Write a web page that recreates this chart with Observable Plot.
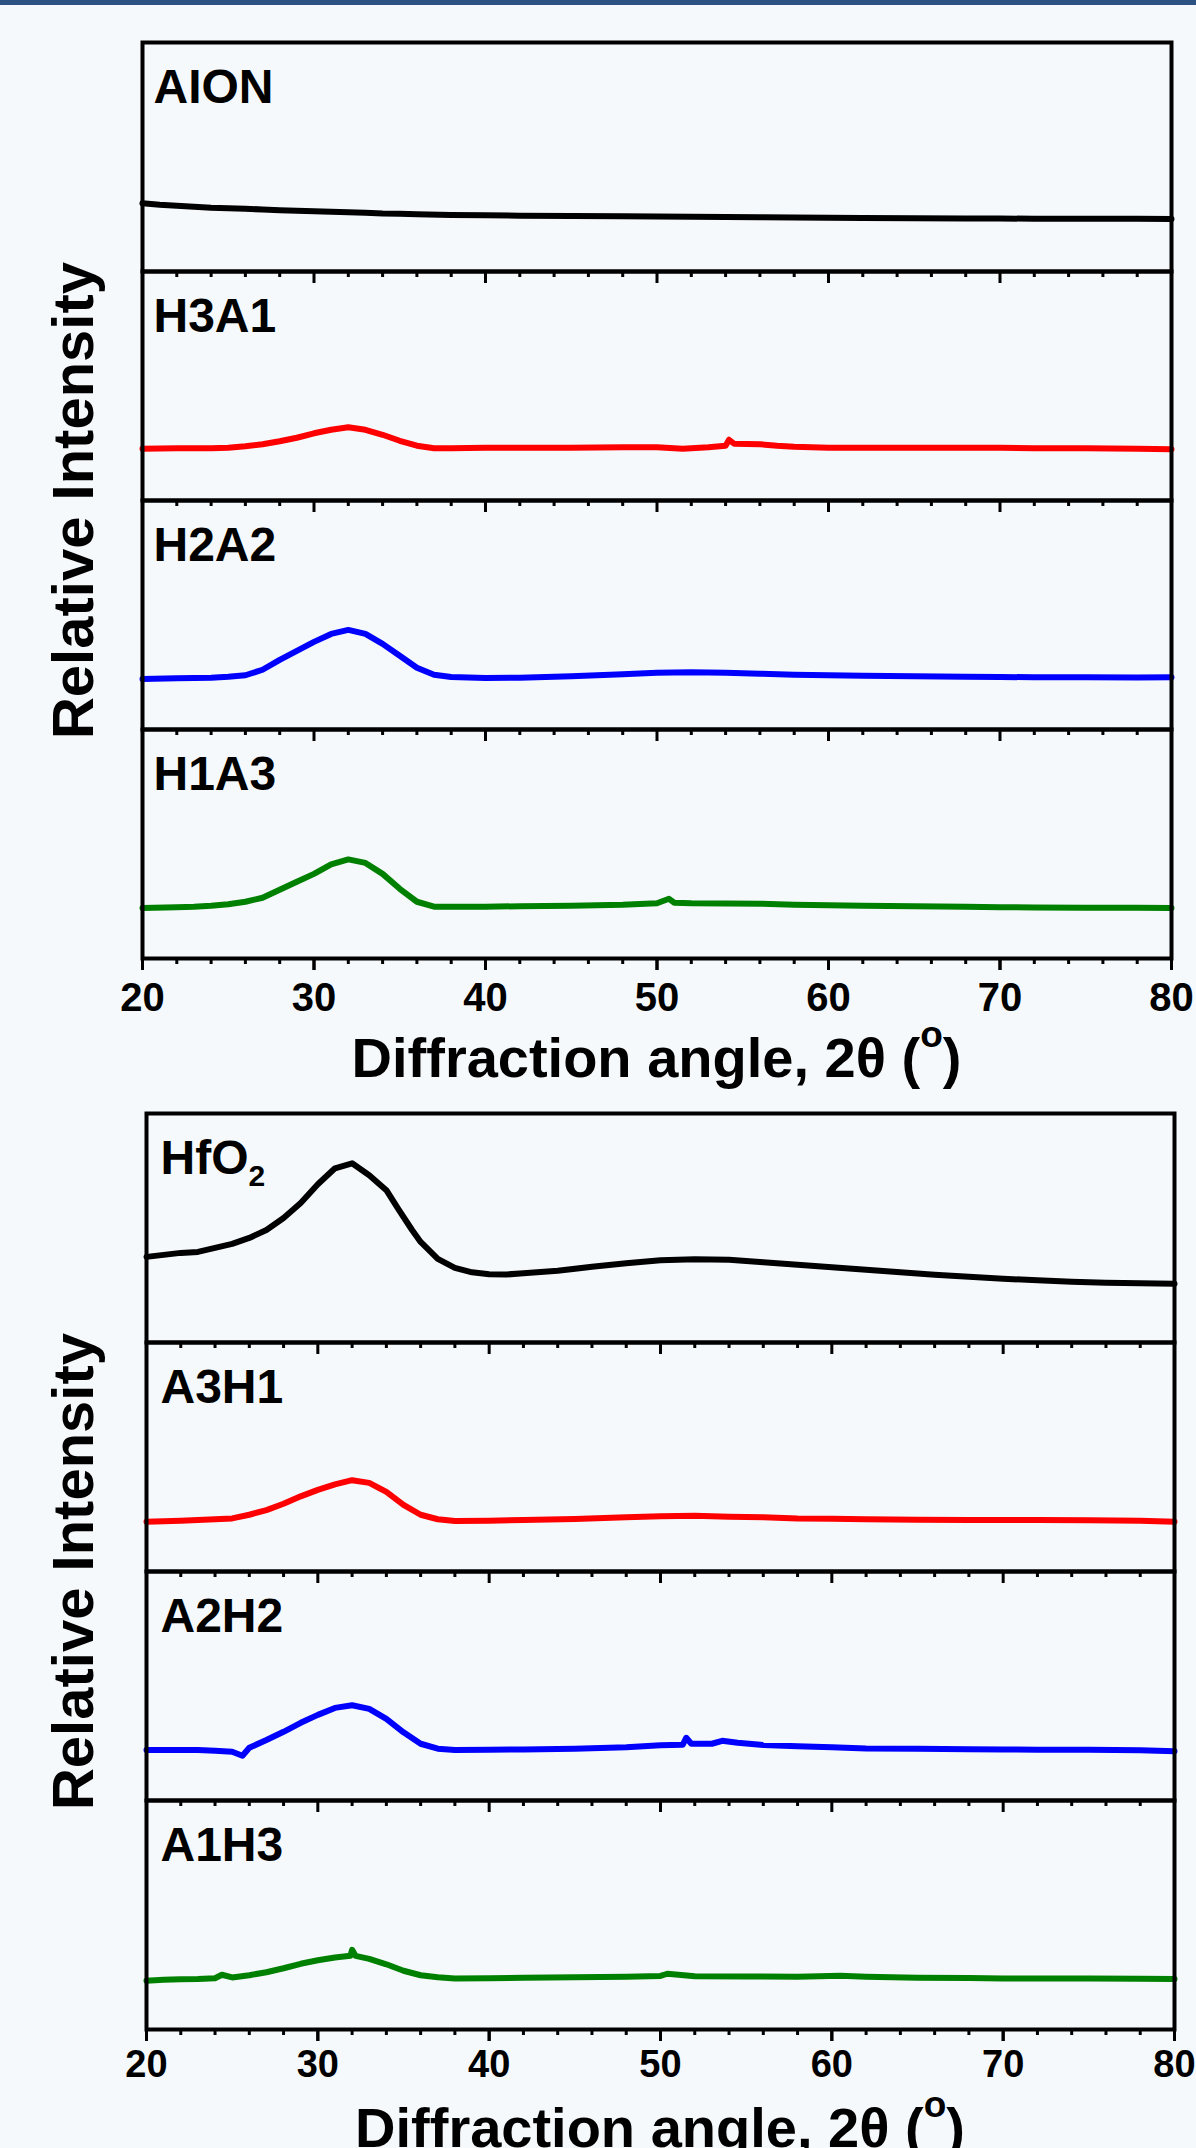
<!DOCTYPE html>
<html><head><meta charset="utf-8">
<script src="https://cdn.jsdelivr.net/npm/d3@7"></script>
<script src="https://cdn.jsdelivr.net/npm/@observablehq/plot@0.6"></script>
<style>
html,body{margin:0;padding:0;background:#f6f9fc;}
body{width:1196px;height:2148px;overflow:hidden;position:relative;font-family:"Liberation Sans",Arial,Helvetica,sans-serif;}
#bar{position:absolute;left:0;top:0;width:1196px;height:5px;background:#2b5283;}
#topChart{position:absolute;left:0;top:0;}
#bottomChart{position:absolute;left:0;top:1100px;}
.xtitle{position:absolute;font-weight:bold;font-size:56px;line-height:56px;text-align:center;color:#000;white-space:nowrap;}
.xtitle .deg{font-size:37px;vertical-align:30px;line-height:0;}
</style></head>
<body>
<div id="topChart"></div>
<div id="bottomChart"></div>
<div id="bar"></div>
<div class="xtitle" style="left:142px;width:1029px;top:1030px">Diffraction angle, 2θ (<span class="deg">o</span>)</div>
<div class="xtitle" style="left:146px;width:1028px;top:2100px">Diffraction angle, 2θ (<span class="deg">o</span>)</div>
<script>
// ---- data: [diffraction angle 2θ (°), relative intensity (a.u.)] ----
const topSamples = ["AION", "H3A1", "H2A2", "H1A3"];
const bottomSamples = ["HfO2", "A3H1", "A2H2", "A1H3"];
const bottomLabels = ["HfO", "A3H1", "A2H2", "A1H3"];
const bottomSubscripts = [{sample: "HfO2", sub: "2"}];
const sampleColors = ["#000000", "#ff0000", "#0000ff", "#008000"];
const majorTicks = [20, 30, 40, 50, 60, 70, 80];
const minorTicks = [22, 24, 26, 28, 32, 34, 36, 38, 42, 44, 46, 48, 52, 54, 56, 58, 62, 64, 66, 68, 72, 74, 76, 78];

const AION = [[20,68.5],[21,67],[22,66],[23,65],[24,64],[25,63.5],[26,63],[27,62.3],[28,61.5],[29,61],[30,60.5],[31,60],[32,59.5],[33,59],[34,58.3],[35,58],[36,57.5],[38,56.8],[40,56.5],[42,56],[45,55.8],[48,55.5],[50,55.3],[52,55],[54,54.7],[56,54.5],[58,54.3],[60,54],[62,53.7],[65,53.5],[68,53.3],[70,53.2],[72,53],[75,53],[78,53],[80,52.8]];
const H3A1 = [[20,52],[22,52.5],[24,52.5],[25,53],[26,54.5],[27,56.5],[28,59.5],[29,63],[30,67.5],[31,71],[32,73.5],[33,71],[34,66],[35,60],[36,55],[37,52.5],[38,52.5],[40,53],[42,53],[45,53],[48,53.5],[50,53.5],[51.5,52],[53,53.5],[54,55],[54.2,61],[54.5,57],[56,56.5],[57,55],[58,54],[60,53],[62,53],[65,53],[68,53],[70,53],[72,52.5],[75,52.5],[78,52],[80,51.5]];
const H2A2 = [[20,50.7],[22,51.5],[23,51.7],[24,52],[25,53],[26,54.5],[27,60],[28,70],[29,79],[30,88],[31,96],[32,100],[33,96],[34,86],[35,74],[36,62],[37,55],[38,52.7],[40,51.7],[42,52],[45,53.5],[48,55.5],[50,57],[52,57.5],[54,57],[56,56],[58,55],[60,54.5],[62,54],[65,53.5],[68,53],[70,52.7],[72,52.5],[75,52.5],[78,52.3],[80,52.5]];
const H1A3 = [[20,50.7],[22,51.5],[23,52],[24,53],[25,54.5],[26,57],[27,61],[28,69],[29,77],[30,85],[31,94.5],[32,99.5],[33,96],[34,85],[35,70],[36,57],[37,52],[38,52],[40,52],[42,52.5],[45,53],[48,54],[50,55.5],[50.7,60],[51,56],[52,55.5],[54,55.3],[56,55],[58,54],[60,53.5],[62,53],[65,52.5],[68,52],[70,51.5],[72,51.3],[75,51],[78,51],[80,50.7]];
const HfO2 = [[20,86],[21,88],[22,90],[23,91],[24,95],[25,99],[26,105],[27,113],[28,125],[29,140],[30,159],[31,175],[32,180],[33,168],[34,153],[34.7,134],[35.5,113],[36,101],[37,84],[38,75],[39,70.5],[40,68.5],[41,68.3],[42,69.5],[44,72],[46,76],[48,79.5],[50,82.5],[52,83.7],[54,83],[56,80.5],[58,78],[60,75.5],[62,73],[64,70.5],[66,68],[68,66],[70,64],[72,62.5],[74,61],[76,60],[78,59.5],[80,59]];
const A3H1 = [[20,50],[22,51],[23,51.7],[24,52.5],[25,53.3],[26,57],[27,61.7],[28,68],[29,75.5],[30,82],[31,87.5],[32,91.7],[33,89],[34,80],[35,67],[36,57],[37,52.5],[38,50.7],[40,51],[42,51.7],[45,52.8],[48,54.5],[50,55.5],[52,56],[54,55],[56,54.5],[58,53.3],[60,53],[62,52.5],[65,52],[68,51.7],[70,51.7],[72,51.7],[75,51.5],[78,51],[80,50]];
const A2H2 = [[20,50.7],[22,50.7],[23,50.7],[24,50],[25,49],[25.6,45],[26,53],[27,60.7],[28,69],[29,78],[30,86],[31,93],[32,95.7],[33,92],[34,82],[35,68.5],[36,57],[37,52],[38,50.7],[40,51],[42,51.3],[45,52],[48,53.5],[50,55.5],[51.3,56],[51.5,63],[51.8,57],[53,57],[53.6,60],[54.5,58],[56,55.7],[58,54.5],[60,53.5],[62,52.3],[65,52],[68,51.5],[70,51.3],[72,51],[75,51],[78,50.5],[80,49.5]];
const A1H3 = [[20,49],[21,50],[22,50.5],[23,50.7],[24,51.5],[24.4,55],[25,52.3],[26,54.5],[27,57.5],[28,61.5],[29,66],[30,69.5],[31,72.3],[31.9,74],[32,80],[32.2,74],[33,71],[34,65.5],[35,59],[36,54.5],[37,52.5],[38,51.3],[40,51.5],[42,52],[45,52.5],[48,53],[50,53.8],[50.4,56],[52,53.5],[55,53.2],[58,53],[60.5,54],[62,53],[65,52],[68,51.7],[70,51.3],[75,51.3],[78,51],[80,50.7]];

const FONT = '"Liberation Sans", Arial, Helvetica, sans-serif';

function makeChart({names, labels, subs, series, marginLeft, marginRight, marginTop, marginBottom, height, tickFont, tickPadding, labelDx}) {
  const rows = names.flatMap((n, i) => series[i].map(([angle, intensity]) => ({sample: n, angle, intensity})));
  const labelRows = names.map((n, i) => ({sample: n, label: labels[i]}));
  return Plot.plot({
    width: 1196, height, marginLeft, marginRight, marginTop, marginBottom,
    style: {background: "transparent", fontFamily: FONT, color: "black"},
    x: {domain: [20, 80], axis: null},
    y: {domain: [0, 230], axis: null},
    fy: {domain: names, padding: 0, axis: null},
    color: {domain: names, range: sampleColors},
    marks: [
      Plot.line(rows, {x: "angle", y: "intensity", fy: "sample", z: "sample", stroke: "sample", strokeWidth: 6, strokeLinejoin: "round"}),
      Plot.frame({stroke: "black", strokeWidth: 4}),
      Plot.axisX({ticks: minorTicks, tickSize: 6, strokeWidth: 3, fill: "none", label: null, facetAnchor: null}),
      Plot.axisX({ticks: majorTicks, tickSize: 12, strokeWidth: 3, fill: "none", label: null, facetAnchor: null}),
      Plot.axisX({ticks: majorTicks, tickSize: 12, tickPadding, strokeWidth: 3, label: null, fontSize: tickFont, fontWeight: "bold", tickFormat: d => String(d)}),
      Plot.axisFy({anchor: "left", ticks: [], tickSize: 0, label: "Relative Intensity", labelAnchor: "center", labelOffset: marginLeft - 51, fontSize: 58, fontWeight: "bold"}),
      Plot.text(labelRows, {fy: "sample", text: "label", frameAnchor: "top-left", dx: labelDx, dy: 26, lineAnchor: "top", fontSize: 48, fontWeight: "bold", fill: "black"}),
      Plot.text(subs, {fy: "sample", text: "sub", frameAnchor: "top-left", dx: labelDx + 88, dy: 51, lineAnchor: "top", fontSize: 30, fontWeight: "bold", fill: "black"})
    ]
  });
}

document.getElementById("topChart").append(makeChart({
  names: topSamples, labels: topSamples, subs: [], series: [AION, H3A1, H2A2, H1A3],
  marginLeft: 142, marginRight: 25, marginTop: 41, marginBottom: 72, height: 1030,
  tickFont: 40, tickPadding: 12, labelDx: 11
}));
document.getElementById("bottomChart").append(makeChart({
  names: bottomSamples, labels: bottomLabels, subs: bottomSubscripts, series: [HfO2, A3H1, A2H2, A1H3],
  marginLeft: 146, marginRight: 22, marginTop: 12, marginBottom: 70, height: 1000,
  tickFont: 38, tickPadding: 9, labelDx: 14
}));
</script>
</body></html>
